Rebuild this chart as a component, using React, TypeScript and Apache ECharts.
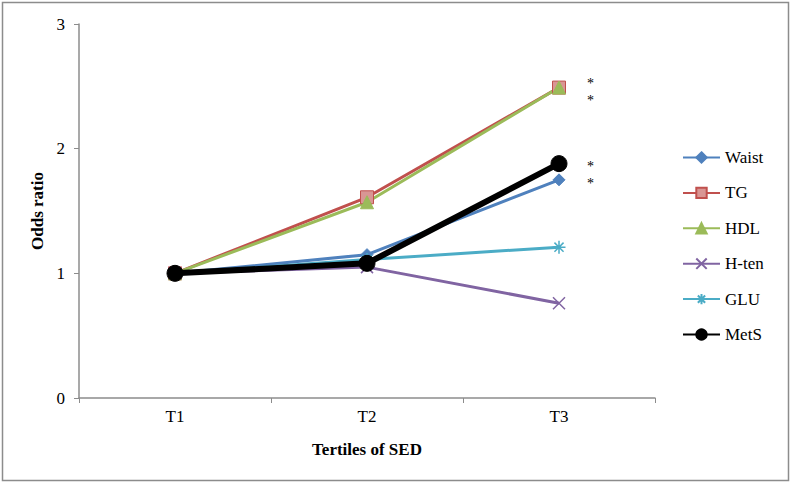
import React, { useEffect, useRef } from "react";
import * as echarts from "echarts";

const categories = ["T1", "T2", "T3"];
const seriesNames = ["Waist", "TG", "HDL", "H-ten", "GLU", "MetS"];
const waist = [1, 1.15, 1.75];
const tg = [1, 1.61, 2.49];
const hdl = [1, 1.57, 2.49];
const hten = [1, 1.05, 0.76];
const glu = [1, 1.11, 1.21];
const mets = [1, 1.08, 1.88];
const yTicks = [0, 1, 2, 3];

const FONT = "Liberation Serif";

export default function App() {
  const ref = useRef<HTMLDivElement>(null);
  useEffect(() => {
    document.body.style.margin = "0";
    const chart = echarts.init(ref.current!, null, { renderer: "svg" });
    const crossPath = "path://M0,0L10,10M10,0L0,10";
    const starPath = "path://M5,0L5,10M0,5L10,5M1.5,1.5L8.5,8.5M8.5,1.5L1.5,8.5";
    const mk = (
      name: string,
      data: number[],
      color: string,
      symbol: string,
      size: number,
      width: number,
      extra: any = {}
    ) => ({
      name,
      type: "line",
      data,
      symbol,
      symbolSize: size,
      lineStyle: { color, width },
      itemStyle: { color, borderColor: color, borderWidth: 1 },
      emphasis: { disabled: true },
      ...extra,
    });
    const option: any = {
      animation: false,
      backgroundColor: "#fff",
      grid: { left: 79, top: 24, right: 136, bottom: 86 },
      xAxis: {
        type: "category",
        data: categories,
        boundaryGap: true,
        name: "Tertiles of SED",
        nameLocation: "middle",
        nameGap: 43,
        nameTextStyle: { fontFamily: FONT, fontSize: 17, fontWeight: "bold", color: "#000" },
        axisLine: { lineStyle: { color: "#8c8c8c", width: 1.5 } },
        axisTick: { show: true, length: 5, lineStyle: { color: "#8c8c8c" } },
        axisLabel: { fontFamily: FONT, fontSize: 17, color: "#000", margin: 10 },
        splitLine: { show: false },
      },
      yAxis: {
        type: "value",
        min: yTicks[0],
        max: yTicks[yTicks.length - 1],
        interval: 1,
        name: "Odds ratio",
        nameLocation: "middle",
        nameGap: 33,
        nameTextStyle: { fontFamily: FONT, fontSize: 17, fontWeight: "bold", color: "#000" },
        axisLine: { show: true, lineStyle: { color: "#8c8c8c", width: 1.5 } },
        axisTick: { show: true, length: 5, lineStyle: { color: "#8c8c8c" } },
        axisLabel: { fontFamily: FONT, fontSize: 17, color: "#000", margin: 14 },
        splitLine: { show: false },
      },
      legend: {
        orient: "vertical",
        left: 682,
        top: 149,
        padding: 0,
        itemWidth: 37,
        itemHeight: 13,
        itemGap: 18.4,
        data: seriesNames,
        textStyle: { fontFamily: FONT, fontSize: 17, lineHeight: 16, color: "#000" },
      },
      series: [
        mk(seriesNames[0], waist, "#4F81BD", "diamond", 12, 3),
        mk(seriesNames[1], tg, "#C0504D", "rect", 13, 3, { itemStyle: { color: "#D99694", borderColor: "#C0504D", borderWidth: 1 } }),
        mk(seriesNames[2], hdl, "#9BBB59", "triangle", 13, 3),
        mk(seriesNames[3], hten, "#8064A2", crossPath, 12, 3, { itemStyle: { color: "none", borderColor: "#8064A2", borderWidth: 1.5 } }),
        mk(seriesNames[4], glu, "#4BACC6", starPath, 13, 3, { itemStyle: { color: "none", borderColor: "#4BACC6", borderWidth: 1.5 } }),
        mk(seriesNames[5], mets, "#000000", "circle", 16, 6),
      ],
      graphic: [
        {
          type: "rect",
          shape: { x: 2.5, y: 2.5, width: 786, height: 478 },
          style: { fill: "none", stroke: "#8c8c8c", lineWidth: 1.5 },
          silent: true,
        },
        ...[81, 98, 164, 181].map((y) => ({
          type: "text",
          x: 587,
          y: y - 5,
          style: { text: "*", font: `14px '${FONT}'`, fill: "#000" },
        })),
      ],
    };
    chart.setOption(option);
    return () => chart.dispose();
  }, []);
  return <div ref={ref} style={{ width: 791, height: 484 }} />;
}
